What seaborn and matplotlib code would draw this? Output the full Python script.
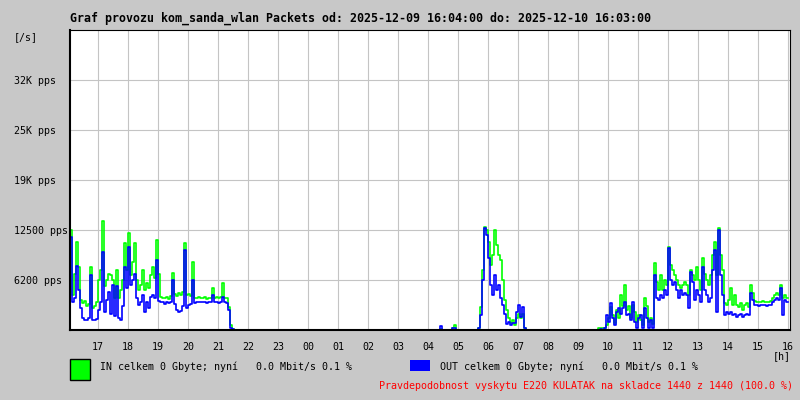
import numpy as np
import pandas as pd
import matplotlib
matplotlib.use("Agg")
import matplotlib.pyplot as plt
import seaborn as sns
from matplotlib.patches import Rectangle

# ---------------- data ----------------
title = "Graf provozu kom_sanda_wlan Packets od: 2025-12-09 16:04:00 do: 2025-12-10 16:03:00"
hour_labels = ["17", "18", "19", "20", "21", "22", "23", "00", "01", "02", "03", "04",
               "05", "06", "07", "08", "09", "10", "11", "12", "13", "14", "15", "16"]
first_hour_offset_min = 56          # 17:00 is 56 minutes after 16:04
sample_step_min = 4                 # one sample every 4 minutes
y_tick_values = [6250, 12500, 18750, 25000, 31250]
y_tick_labels = ["6200 pps", "12500 pps", "19K pps", "25K pps", "32K pps"]
legend_in = "IN celkem 0 Gbyte; nyní   0.0 Mbit/s 0.1 %"
legend_out = "OUT celkem 0 Gbyte; nyní   0.0 Mbit/s 0.1 %"
footer = "Pravdepodobnost vyskytu E220 KULATAK na skladce 1440 z 1440 (100.0 %)"

# evening 16:04 - 21:32
in_evening = [12500, 4400, 7000, 11000, 7900, 3800, 3400, 3600, 3000, 3200,
              7900, 2800, 3000, 3500, 6200, 7500, 13600, 5500, 6300, 7000,
              6900, 6250, 4000, 7500, 4000, 5000, 6300, 10900, 7500, 12100,
              6900, 8500, 10900, 6300, 5000, 5600, 7500, 5000, 5900, 5300,
              6900, 7900, 6500, 11250, 7000, 4100, 4000, 4000, 4100, 3900,
              4200, 7100, 4500, 4300, 4600, 4400, 4800, 10900, 4400, 4500,
              4300, 8500, 4000, 4000, 4100, 4000, 4000, 4100, 3900, 4000,
              4000, 5250, 4000, 4100, 4000, 4100, 5900, 4000, 4000, 2900,
              600, 100]
out_evening = [11600, 3500, 4000, 8000, 5000, 2800, 1500, 1300, 1300, 1500,
               6900, 1300, 1300, 1400, 2500, 3500, 9700, 2200, 3800, 4800,
               2000, 5600, 1800, 5500, 1500, 1300, 3000, 7900, 5200, 10400,
               5600, 6300, 7000, 4000, 3100, 3500, 4400, 2200, 3500, 2800,
               4100, 4400, 4000, 8750, 3600, 3500, 3500, 3300, 3500, 3400,
               3500, 6250, 3200, 2500, 2200, 2400, 3000, 10000, 2800, 3100,
               3300, 6250, 3400, 3500, 3500, 3500, 3500, 3500, 3400, 3500,
               3500, 4400, 3500, 3500, 3400, 3500, 4100, 3500, 3400, 2500,
               300, 100]

# night 21:32 - 05:48
in_night = [0, 0, 0, 0, 0, 0, 0, 0, 0, 0, 0, 0, 0, 0, 0, 0, 0, 0, 0, 0,
            0, 0, 0, 0, 0, 0, 0, 0, 0, 0, 0, 0, 0, 0, 0, 0, 0, 0, 0, 0,
            0, 0, 0, 0, 0, 0, 0, 0, 0, 0, 0, 0, 0, 0, 0, 0, 0, 0, 0, 0,
            0, 0, 0, 0, 0, 0, 0, 0, 0, 0, 0, 0, 0, 0, 0, 0, 0, 0, 0, 0,
            0, 0, 0, 0, 0, 0, 0, 0, 0, 0, 0, 0, 0, 0, 0, 0, 0, 0, 0, 0,
            0, 0, 0, 100, 0, 0, 0, 0, 0, 300, 600, 0, 0, 0, 0, 0, 0, 0,
            0, 0, 0]
out_night = [0, 0, 0, 0, 0, 0, 0, 0, 0, 0, 0, 0, 0, 0, 0, 0, 0, 0, 0, 0,
             0, 0, 0, 0, 0, 0, 0, 0, 0, 0, 0, 0, 0, 0, 0, 0, 0, 0, 0, 0,
             0, 0, 0, 0, 0, 0, 0, 0, 0, 0, 0, 0, 0, 0, 0, 0, 0, 0, 0, 0,
             0, 0, 0, 0, 0, 0, 0, 0, 0, 0, 0, 0, 0, 0, 0, 0, 0, 0, 0, 0,
             0, 0, 0, 0, 0, 0, 0, 0, 0, 0, 0, 0, 0, 0, 0, 0, 0, 0, 0, 0,
             0, 0, 0, 500, 0, 0, 0, 0, 0, 200, 300, 0, 0, 0, 0, 0, 0, 0,
             0, 0, 0]

# morning 05:48 - 07:28
in_morning = [0, 300, 2900, 7500, 12900, 12500, 11000, 8100, 9400, 12500,
              10600, 9400, 8750, 6300, 3800, 2500, 1500, 900, 1300, 600,
              1500, 2000, 1500, 2000, 300]
out_morning = [0, 200, 1900, 6250, 12700, 11900, 9000, 5600, 4400, 6900,
               5000, 5600, 4000, 3100, 2000, 800, 1000, 600, 900, 900,
               2200, 3100, 1600, 2900, 300]

# quiet 07:28 - 09:48
in_quiet = [0, 0, 0, 0, 0, 0, 0, 0, 0, 0, 0, 0, 0, 0, 0, 0, 0, 0, 0, 0,
            0, 0, 0, 0, 0, 0, 0, 0, 0, 0, 0, 0, 0, 0, 0]
out_quiet = [0, 0, 0, 0, 0, 0, 0, 0, 0, 0, 0, 0, 0, 0, 0, 0, 0, 0, 0, 0,
             0, 0, 0, 0, 0, 0, 0, 0, 0, 0, 0, 0, 0, 0, 0]

# day 09:48 - 16:04
in_day = [0, 250, 250, 300, 200, 600, 1500, 2900, 1900, 900,
          2500, 1500, 4400, 3000, 5600, 2500, 3000, 1500, 3100, 2200,
          1000, 1900, 1300, 600, 4000, 3000, 1000, 1500, 800, 8400,
          6000, 5000, 6900, 5000, 6250, 5600, 10400, 8100, 7500, 6900,
          6250, 5600, 5300, 5600, 6000, 5600, 4400, 7500, 6900, 6250,
          7900, 6250, 5000, 9000, 7000, 6250, 5600, 6900, 9400, 11000,
          6900, 12750, 9400, 7500, 3400, 3100, 3800, 5300, 3100, 4400,
          3100, 2900, 3400, 2500, 3100, 3400, 2900, 5600, 4600, 3600,
          3500, 3500, 3500, 3600, 3500, 3500, 3500, 3600, 4000, 4400,
          4600, 4400, 5600, 4000, 4400, 4000, 4000]
out_day = [0, 0, 100, 0, 300, 1900, 1000, 3400, 1500, 600,
           2200, 2750, 2000, 2750, 3500, 1900, 2000, 1300, 3500, 1000,
           300, 1500, 1900, 300, 2750, 1500, 300, 1300, 200, 6900,
           4000, 3750, 4400, 4000, 5000, 4400, 10250, 6250, 5600, 6000,
           5000, 4000, 5000, 4400, 4600, 4400, 2750, 7250, 6000, 3800,
           5000, 4400, 3500, 7900, 5000, 4400, 3500, 4000, 7500, 10000,
           2250, 12500, 6900, 4400, 1900, 2200, 2000, 2200, 1900, 2000,
           1600, 1900, 2000, 1600, 1900, 2000, 1900, 4600, 3750, 3100,
           3100, 3000, 3100, 3100, 3100, 3000, 3100, 3100, 3500, 3800,
           4000, 3750, 5300, 1900, 3800, 3500, 3500]

in_pps = in_evening + in_night + in_morning + in_quiet + in_day
out_pps = out_evening + out_night + out_morning + out_quiet + out_day
n = min(len(in_pps), len(out_pps))
df = pd.DataFrame({
    "minute": np.arange(n) * sample_step_min,
    "IN": in_pps[:n],
    "OUT": out_pps[:n],
})

# ---------------- drawing ----------------
W, H = 800, 400
bg = "#c8c8c8"
plt.rcParams["font.family"] = ["DejaVu Sans Mono", "DejaVu Sans"]

fig = plt.figure(figsize=(8, 4), dpi=100, facecolor=bg)
ax = fig.add_axes([70 / W, 1 - 330 / H, 720 / W, 300 / H])
ax.set_facecolor("white")

sns.lineplot(data=df, x="minute", y="IN", color="#00ff00", lw=1.2,
             drawstyle="steps-post", estimator=None, ax=ax, zorder=3)
sns.lineplot(data=df, x="minute", y="OUT", color="#0000ff", lw=1.2,
             drawstyle="steps-post", estimator=None, ax=ax, zorder=4)

ax.set_xlim(0, 1440)
ax.set_ylim(0, 37500)
hour_pos = [first_hour_offset_min + 60 * k for k in range(len(hour_labels))]
ax.set_xticks(hour_pos)
ax.set_xticklabels(hour_labels)
ax.set_yticks(y_tick_values)
ax.set_yticklabels(y_tick_labels)
ax.set_xlabel("")
ax.set_ylabel("")

ax.grid(True, color="#c4c4c4", lw=0.8)
ax.set_axisbelow(True)
for side in ["top", "right"]:
    ax.spines[side].set_color("black")
    ax.spines[side].set_linewidth(0.8)
for side in ["left", "bottom"]:
    ax.spines[side].set_color("black")
    ax.spines[side].set_linewidth(1.5)
    ax.spines[side].set_zorder(6)

ax.tick_params(axis="both", length=0, labelsize=7.2, colors="black")
ax.tick_params(axis="x", pad=9)
ax.tick_params(axis="y", pad=40.3)
for t in ax.get_yticklabels():
    t.set_ha("left")

fig.text(70 / W, 1 - 18 / H, title, fontsize=8.4, fontweight="bold",
         ha="left", va="center", color="black")
fig.text(14 / W, 1 - 37 / H, "[/s]", fontsize=7.2, ha="left", va="center")
fig.text(791 / W, 1 - 356 / H, "[h]", fontsize=7.2, ha="right", va="center")

fig.patches.append(Rectangle((70 / W, 1 - 380 / H), 20 / W, 21 / H,
                             transform=fig.transFigure, facecolor="#00ff00",
                             edgecolor="black", lw=1.0))
fig.patches.append(Rectangle((410 / W, 1 - 371 / H), 20 / W, 11 / H,
                             transform=fig.transFigure, facecolor="#0000ff",
                             edgecolor="none"))
fig.text(100 / W, 1 - 367 / H, legend_in, fontsize=7.2, ha="left", va="center")
fig.text(440 / W, 1 - 367 / H, legend_out, fontsize=7.2, ha="left", va="center")
fig.text(793 / W, 1 - 386 / H, footer, fontsize=7.2, ha="right", va="center",
         color="#ff0000")

fig.savefig("out.png", dpi=100, facecolor=bg)
